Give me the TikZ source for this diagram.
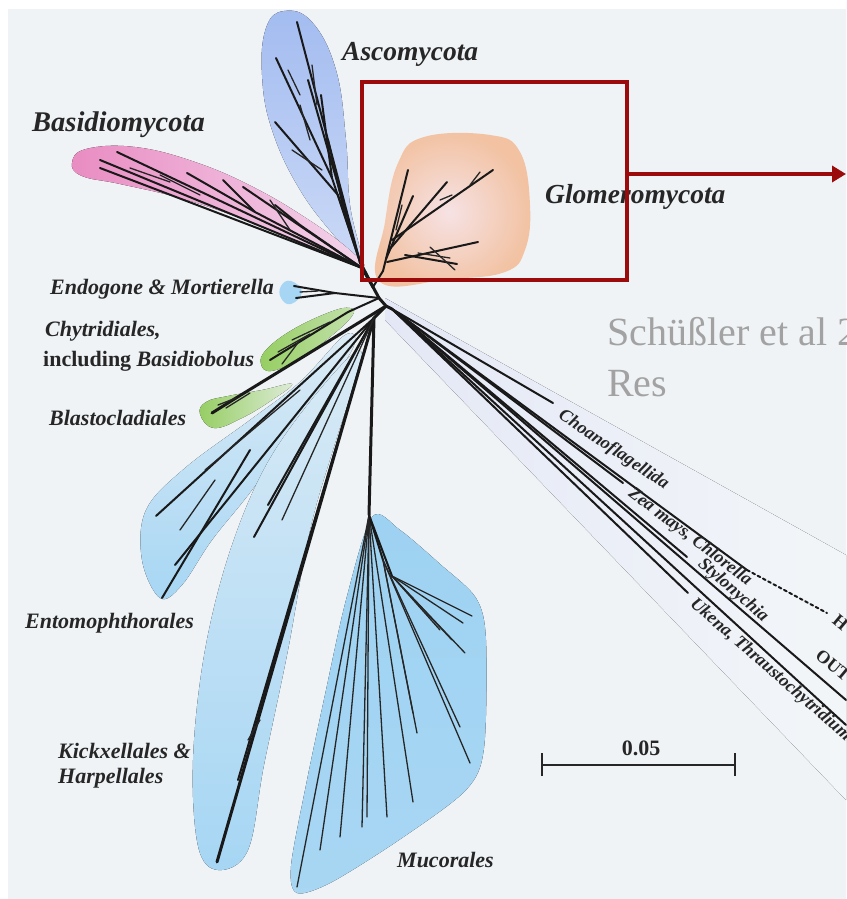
\documentclass[tikz,border=0pt]{standalone}
\usepackage{fontspec}
\setmainfont{Liberation Serif}
\usetikzlibrary{arrows.meta}
\definecolor{bg}{HTML}{EFF3F6}
\definecolor{ascoblue}{HTML}{A3BCF0}
\definecolor{pinkL}{HTML}{E98CC2}
\definecolor{pinkR}{HTML}{F3D6EC}
\definecolor{orangeO}{HTML}{F2C2A2}
\definecolor{orangeI}{HTML}{F6E2E4}
\definecolor{lblue}{HTML}{A6D6F4}
\definecolor{mblue}{HTML}{9ED2F2}
\definecolor{greenG}{HTML}{96CE62}
\definecolor{lav}{HTML}{E4E8F6}
\definecolor{darkred}{HTML}{9B0B0B}
\definecolor{graytxt}{HTML}{A2A2A2}
\tikzset{
  br/.style={line width=2pt, black!90, line cap=round},
  thin br/.style={line width=1.3pt, black!85, line cap=round},
  thick br/.style={line width=3pt, black!90, line cap=round},
  lab/.style={font=\bfseries\itshape\fontsize{22}{24}\selectfont, inner sep=0pt, anchor=base west, text=black!85},
  biglab/.style={font=\bfseries\itshape\fontsize{27.5}{30}\selectfont, inner sep=0pt, anchor=base west, text=black!85},
  outlab/.style={font=\bfseries\itshape\fontsize{18}{20}\selectfont, inner sep=0pt, anchor=west, text=black!85},
  blob/.style={draw=none}
}
\begin{document}
\begin{tikzpicture}[x=1pt,y=-1pt]
\useasboundingbox (0,0) rectangle (846,899);
\fill[white] (0,0) rectangle (846,899);
\fill[bg] (8,9) rectangle (846,899);
\begin{scope}
\clip (0,0) rectangle (846,899);
% outgroup band
\fill[left color=lav, right color=bg!75!white] (385,298) -- (846,555) -- (846,800) -- (385,320) -- cycle;

% Ascomycota lobe
\fill[top color=ascoblue, bottom color=ascoblue!55!white, blob] plot[smooth cycle, tension=0.7] coordinates {(362,264) (350,205) (346,140) (336,70) (312,22) (284,11) (266,28) (262,75) (272,130) (300,190) (338,240)};
% Basidiomycota lobe
\fill[left color=pinkL, right color=pinkR, blob] plot[smooth cycle, tension=0.7] coordinates {(360,266) (300,242) (240,218) (180,198) (120,184) (82,176) (72,163) (86,149) (135,147) (195,162) (255,188) (312,222) (352,252)};
% Glomeromycota blob
\shade[inner color=orangeI, outer color=orangeO] plot[smooth cycle, tension=0.7] coordinates {(380,282) (385,222) (398,163) (424,137) (490,135) (520,152) (530,205) (525,250) (505,272) (450,279)};
% Endogone blob
\fill[lblue] plot[smooth cycle, tension=0.8] coordinates {(302,292) (291,281) (281,286) (281,298) (291,304)};
% Chytridiales blob
\fill[left color=greenG, right color=greenG!50!bg] plot[smooth cycle, tension=0.7] coordinates {(350,308) (330,312) (292,330) (266,350) (261,364) (271,371) (297,360) (330,337) (352,316)};
% Blastocladiales blob
\fill[left color=greenG, right color=greenG!20!bg] plot[smooth cycle, tension=0.7] coordinates {(200,414) (206,402) (228,396) (262,390) (292,384) (272,400) (242,418) (214,428)};
% Entomophthorales lobe
\fill[bottom color=lblue, top color=lblue!25!bg] plot[smooth cycle, tension=0.6] coordinates {(345,335) (300,382) (250,420) (185,468) (146,510) (142,560) (160,598) (182,585) (212,540) (252,490) (302,420) (352,350)};
% Kickxellales lobe
\fill[bottom color=lblue, top color=lblue!30!bg] plot[smooth cycle, tension=0.6] coordinates {(362,355) (336,440) (310,530) (288,650) (264,765) (248,850) (218,870) (198,846) (193,760) (205,650) (232,545) (272,455) (335,372)};
% Mucorales lobe
\fill[top color=mblue, bottom color=mblue!90!white] plot[smooth cycle, tension=0.5] coordinates {(372,517) (346,600) (326,690) (306,785) (291,866) (297,893) (332,882) (402,838) (466,790) (484,748) (486,640) (476,598) (440,564) (400,530)};
\end{scope}

% ---- tree ----
\coordinate (A0) at (360,262);
\coordinate (B0) at (362,268);
\coordinate (H1) at (373,287);
\coordinate (G0) at (383,271);
\coordinate (H2) at (379,298);
\coordinate (H3) at (386,306);
\coordinate (O) at (392,309);
\coordinate (T0) at (374,318);
\coordinate (M0) at (369,515);
\draw[thick br] (A0) -- (H1);
\draw[thick br] (B0) -- (H1);
\draw[thick br] (H1) -- (H2) -- (H3) -- (O);
\draw[br] (H1) -- (G0);
\draw[thick br] (H3) -- (T0) -- (M0);

% Ascomycota
\draw[br] (A0) -- (297,22);
\draw[br] (A0) -- (332,178) -- (276,58);
\draw[br] (332,178) -- (321,95);
\draw[br] (A0) -- (338,195) -- (275,122);
\draw[br] (345,215) -- (328,140);
\draw[thin br] (310,140) -- (300,105);
\draw[thin br] (322,170) -- (292,150);
\draw[thin br] (300,95) -- (288,70);
\draw[br] (A0) -- (308,80);
\draw[thin br] (317,105) -- (312,65);

% Basidiomycota
\draw[br] (B0) -- (100,160);
\draw[br] (B0) -- (117,152);
\draw[br] (B0) -- (100,168);
\draw[br] (B0) -- (255,212) -- (187,173);
\draw[br] (255,212) -- (223,180);
\draw[br] (B0) -- (243,187);
\draw[thin br] (290,230) -- (270,200);
\draw[thin br] (200,195) -- (160,175);
\draw[thin br] (170,182) -- (130,168);
\draw[br] (B0) -- (300,225) -- (275,205);

% Glomeromycota
\draw[br] (G0) -- (408,170);
\draw[br] (386,259) -- (413,196);
\draw[br] (389,250) -- (447,182);
\draw[br] (392,240) -- (493,170);
\draw[br] (387,262) -- (478,242);
\draw[br] (405,255) -- (457,264);
\draw[thin br] (418,253) -- (450,258);
\draw[thin br] (440,200) -- (452,195);
\draw[thin br] (470,185) -- (480,172);
\draw[thin br] (396,230) -- (402,205);
\draw[thin br] (430,247) -- (455,270);

% Endogone & Mortierella
\draw[br] (H2) -- (335,293) -- (294,286);
\draw[br] (335,293) -- (296,298);
\draw[thin br] (318,291) -- (300,292);

% Chytridiales
\draw[br] (H2) -- (348,312) -- (270,360);
\draw[thin br] (330,322) -- (292,340);
\draw[thin br] (310,334) -- (278,352);
\draw[thin br] (300,340) -- (282,364);

% Blastocladiales
\draw[thick br] (H3) -- (236,398) -- (212,413);
\draw[thin br] (236,398) -- (218,405);
\draw[thin br] (250,393) -- (226,408);

% Entomophthorales
\draw[br] (T0) -- (156,516);
\draw[br] (T0) -- (175,565);
\draw[br] (250,450) -- (162,598);
\draw[thin br] (215,480) -- (180,530);
\draw[thin br] (300,390) -- (205,470);

% Kickxellales & Harpellales
\draw[thick br] (T0) -- (217,862);
\draw[br] (T0) -- (238,780);
\draw[br] (T0) -- (268,505);
\draw[br] (T0) -- (254,537);
\draw[thin br] (T0) -- (282,520);
\draw[thin br] (260,720) -- (248,740);

% Mucorales
\coordinate (M1) at (392,576);
\coordinate (M2) at (383,560);
\foreach \p in {(297,887),(320,850),(340,837),(362,827),(367,817),(387,817),(413,802)}
  \draw[thin br] (M0) -- \p;
\draw[br] (M0) -- (M2);
\foreach \p in {(417,733),(413,713),(460,727),(470,763)}
  \draw[thin br] (M2) -- \p;
\draw[br] (M0) -- (M1);
\foreach \p in {(463,623),(465,653),(452,640),(472,616),(440,630)}
  \draw[thin br] (M1) -- \p;

% Outgroup
\draw[br] (O) -- (553,403);
\draw[br] (O) -- (747,570);
\draw[br, dashed] (747,570) -- (827,613);
\draw[br] (O) -- (623,483);
\draw[br] (O) -- (687,557);
\draw[br] (O) -- (846,700);
\draw[br] (O) -- (688,593);
\draw[br] (O) -- (846,725);

% ---- labels ----
\node[biglab] (asco) at (342,61) {Ascomycota};
\node[biglab, font=\bfseries\itshape\fontsize{28.5}{30}\selectfont] (basid) at (32,131) {Basidiomycota};
\node[biglab] (glom) at (545,203) {Glomeromycota};
\node[lab] (endo) at (50,294) {Endogone \& Mortierella};
\node[lab] (chy1) at (45,336) {Chytridiales,};
\node[lab] (chy2) at (43,366) {\upshape including \itshape Basidiobolus};
\node[lab] (blast) at (49,425) {Blastocladiales};
\node[lab] (ento) at (25,628) {Entomophthorales};
\node[lab] (kick1) at (58,758) {Kickxellales \&};
\node[lab] (kick2) at (58,783) {Harpellales};
\node[lab] (muc) at (397,867) {Mucorales};

\begin{scope}
\clip (0,0) rectangle (846,899);
\node[outlab, rotate=-34] (choano) at (560,414) {Choanoflagellida};
\node[outlab, rotate=-37] (zea) at (630,492) {Zea mays, Chlorella};
\node[outlab, rotate=-41] (stylo) at (700,562) {Stylonychia};
\node[outlab, rotate=-41] (ukena) at (692,602) {Ukena, Thraustochytridium};
\node[outlab, rotate=-40] (outg) at (818,653) {\upshape OUT};
\node[outlab, rotate=-40] (hom) at (835,618) {\upshape H};
\node[font=\fontsize{40}{46}\selectfont, text=graytxt, inner sep=0pt, anchor=base west] (ref) at (607,345) {Schüßler et al 2};
\node[font=\fontsize{40}{46}\selectfont, text=graytxt, inner sep=0pt, anchor=base west] (ref2) at (607,396) {Res};
\end{scope}

% scale bar
\coordinate (sbL) at (542,765);
\coordinate (sbR) at (735,765);
\draw[line width=2.6pt, black!85] (sbL) -- (sbR);
\draw[line width=2.6pt, black!85] ([yshift=-11pt]sbL) -- ([yshift=12pt]sbL);
\draw[line width=2.6pt, black!85] ([yshift=-11pt]sbR) -- ([yshift=12pt]sbR);
\node[font=\bfseries\fontsize{22}{24}\selectfont, inner sep=0pt, anchor=base, text=black!85] (sbl) at (641,755) {0.05};

% red box and arrow
\node[draw=darkred, line width=4pt, minimum width=265pt, minimum height=198pt, inner sep=0pt] (box) at (494.5,181) {};
\coordinate (arrowend) at (846,174);
\draw[darkred, line width=3.5pt, -{Triangle[length=14pt,width=16pt]}] (box.east |- arrowend) -- (arrowend);
\end{tikzpicture}
\end{document}
